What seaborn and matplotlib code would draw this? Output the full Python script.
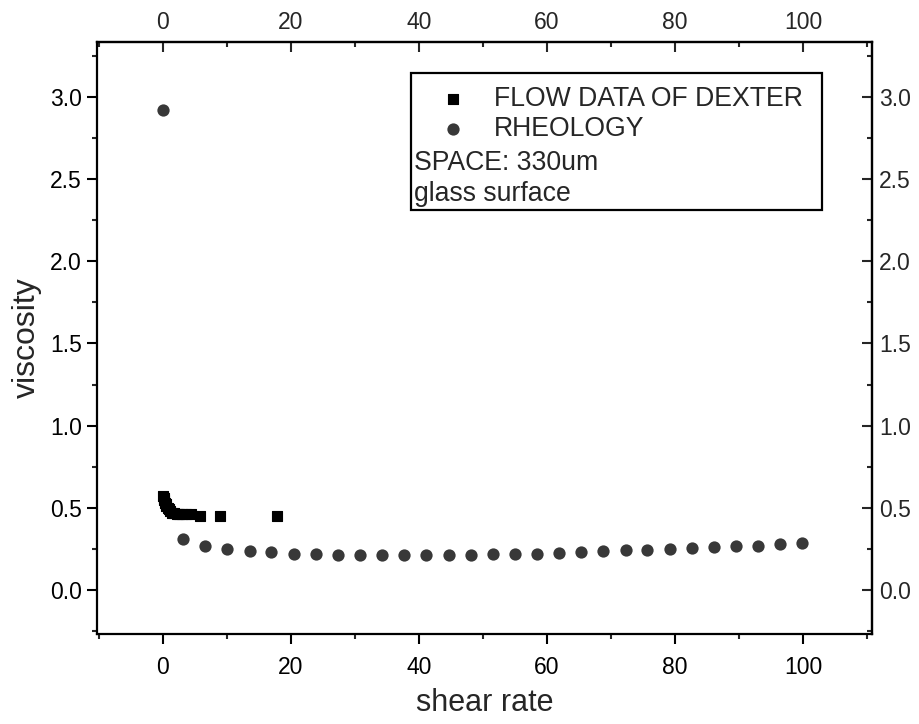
import numpy as np
import pandas as pd
import matplotlib
matplotlib.use('Agg')
import matplotlib.pyplot as plt
from matplotlib.ticker import MultipleLocator
from matplotlib.patches import Rectangle
import seaborn as sns

# flow data (squares)
flow_rate = [0.1, 0.2, 0.3, 0.4, 0.5, 0.6, 0.8, 1.0, 1.2, 1.5, 1.8, 2.2, 2.6, 3.0, 3.6, 4.5, 5.8, 8.9, 17.9]
flow_visc = [0.57, 0.56, 0.55, 0.53, 0.52, 0.51, 0.50, 0.49, 0.48, 0.47, 0.47, 0.46, 0.46, 0.46, 0.46, 0.46, 0.45, 0.45, 0.45]

# rheology (circles)
rheo_rate = [0.0, 3.2, 6.7, 10.1, 13.6, 17.0, 20.5, 23.9, 27.4, 30.8, 34.3, 37.7, 41.2, 44.7,
             48.1, 51.6, 55.0, 58.5, 61.9, 65.4, 68.8, 72.3, 75.7, 79.2, 82.6, 86.1, 89.5,
             93.0, 96.4, 99.9]
rheo_visc = [2.92, 0.31, 0.27, 0.25, 0.235, 0.23, 0.22, 0.22, 0.215, 0.215, 0.215, 0.215, 0.215,
             0.215, 0.215, 0.22, 0.22, 0.22, 0.225, 0.23, 0.235, 0.24, 0.245, 0.25, 0.255,
             0.26, 0.265, 0.27, 0.28, 0.285]

x_ticks = [0, 20, 40, 60, 80, 100]
y_ticks = [0.0, 0.5, 1.0, 1.5, 2.0, 2.5, 3.0]
legend_labels = ['FLOW DATA OF DEXTER', 'RHEOLOGY']
note_lines = ['SPACE: 330um', 'glass surface']

sns.set_style('ticks')
plt.rcParams['font.family'] = ['Liberation Sans', 'DejaVu Sans']

flow = pd.DataFrame({'rate': flow_rate, 'visc': flow_visc})
rheo = pd.DataFrame({'rate': rheo_rate, 'visc': rheo_visc})

fig = plt.figure(figsize=(9.2, 7.24), dpi=100)
ax = fig.add_axes([0.105, 0.124, 0.843, 0.818])

sns.scatterplot(data=flow, x='rate', y='visc', marker='s', s=42, color='black',
                edgecolor='black', linewidth=0.8, ax=ax, label=legend_labels[0], zorder=3)
sns.scatterplot(data=rheo, x='rate', y='visc', marker='o', s=78, color='#383838',
                edgecolor='#383838', linewidth=0, ax=ax, label=legend_labels[1], zorder=3)

ax.set_xlim(-10.3, 110.8)
ax.set_ylim(-0.27, 3.335)
ax.set_xticks(x_ticks)
ax.set_yticks(y_ticks)
ax.xaxis.set_minor_locator(MultipleLocator(10))
ax.yaxis.set_minor_locator(MultipleLocator(0.25))
ax.yaxis.set_major_formatter(plt.FormatStrFormatter('%.1f'))

for sp in ax.spines.values():
    sp.set_visible(True)
    sp.set_linewidth(1.6)
    sp.set_color('black')

ax.tick_params(which='major', direction='out', length=7, width=1.5, labelsize=16.5, colors='black')
ax.tick_params(axis='x', which='major', pad=9)
ax.tick_params(which='minor', direction='out', length=3.5, width=1.5)

top = ax.secondary_xaxis('top')
top.set_xticks(x_ticks)
top.xaxis.set_minor_locator(MultipleLocator(10))
top.tick_params(which='major', direction='in', length=7, width=1.5, labelsize=16.5, pad=6)
top.tick_params(which='minor', direction='in', length=3.5, width=1.5)
top.spines['top'].set_linewidth(1.6)

right = ax.secondary_yaxis('right')
right.set_yticks(y_ticks)
right.yaxis.set_minor_locator(MultipleLocator(0.25))
right.yaxis.set_major_formatter(plt.FormatStrFormatter('%.1f'))
right.tick_params(which='major', direction='in', length=7, width=1.5, labelsize=16.5, pad=5)
right.tick_params(which='minor', direction='in', length=3.5, width=1.5)
right.spines['right'].set_linewidth(1.6)

ax.set_xlabel('shear rate', fontsize=22, labelpad=6)
ax.set_ylabel('viscosity', fontsize=23, labelpad=6)

# legend box
ax.add_patch(Rectangle((0.406, 0.716), 0.529, 0.232, transform=ax.transAxes,
                       fill=False, edgecolor='black', linewidth=1.6, zorder=4))
leg = ax.legend(loc='upper left', bbox_to_anchor=(0.432, 0.94), frameon=False,
                fontsize=19.2, handlelength=1.0, handletextpad=1.05, labelspacing=0.18,
                borderaxespad=0, borderpad=0.3)
for i, line in enumerate(note_lines):
    ax.text(0.409, 0.796 - i * 0.053, line, transform=ax.transAxes, fontsize=19.2,
            va='center', ha='left')

fig.savefig('out.png', dpi=100)
